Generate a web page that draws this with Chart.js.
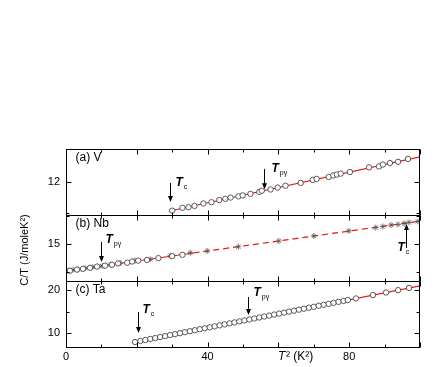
<!DOCTYPE html>
<html>
<head>
<meta charset="utf-8">
<script src="https://cdn.jsdelivr.net/npm/chart.js@4.4.0/dist/chart.umd.min.js"></script>
<style>html,body{margin:0;padding:0;background:#fff}</style>
</head>
<body>
<canvas id="chart" width="442" height="367"></canvas>
<script>
// (a) V
const vT2 = [30.0, 32.9, 34.6, 36.3, 38.8, 41.1, 43.3, 45.0, 46.5, 48.7, 49.9, 52.1, 54.6, 55.3, 57.8, 59.8, 62.0, 66.3, 69.7, 70.8, 74.2, 75.5, 76.5, 77.6, 80.2, 85.6, 88.4, 89.5, 91.5, 93.8, 96.6];
const vCT = [11.08, 11.17, 11.19, 11.23, 11.31, 11.35, 11.42, 11.46, 11.50, 11.54, 11.57, 11.62, 11.68, 11.72, 11.76, 11.82, 11.88, 11.97, 12.07, 12.10, 12.16, 12.21, 12.24, 12.27, 12.32, 12.47, 12.50, 12.56, 12.61, 12.65, 12.74];
const vFitT2 = [29.0, 100.5];
const vFitCT = [11.06, 12.82];

// (b) Nb
const nbCircT2 = [1.1, 3.1, 4.8, 6.8, 8.8, 11.0, 13.0, 14.7, 17.3, 18.7, 20.4, 22.9, 26.1, 30.0, 32.9];
const nbCircCT = [12.62, 12.72, 12.79, 12.88, 12.99, 13.07, 13.15, 13.27, 13.33, 13.44, 13.52, 13.58, 13.74, 13.92, 14.04];
const nbStarT2 = [0.6, 2.0, 3.4, 5.4, 7.6, 10.2, 12.5, 15.3, 19.5, 23.8, 29.5, 35.1, 39.9, 48.7, 60.1, 70.0, 79.9, 87.5, 89.5, 91.8, 93.8, 95.5, 96.9, 99.4];
const nbStarCT = [12.61, 12.70, 12.73, 12.84, 12.95, 13.03, 13.16, 13.30, 13.52, 13.64, 13.97, 14.22, 14.38, 14.76, 15.27, 15.72, 16.17, 16.47, 16.56, 16.69, 16.75, 16.84, 16.93, 17.02];
const nbFitSolidT2 = [0, 36];
const nbFitSolidCT = [12.59, 14.20];
const nbFitDashT2 = [36, 100.5];
const nbFitDashCT = [14.20, 17.07];

// (c) Ta
const taT2 = [19.5, 21.0, 22.4, 23.8, 25.2, 26.6, 28.0, 29.4, 30.8, 32.2, 33.6, 35.0, 36.4, 37.8, 39.2, 40.6, 42.0, 43.4, 44.8, 46.2, 47.6, 49.0, 50.4, 51.8, 53.2, 54.6, 56.0, 57.4, 58.8, 60.2, 61.6, 63.0, 64.4, 65.8, 67.2, 68.6, 70.0, 71.4, 72.8, 74.2, 75.6, 77.0, 78.4, 79.6, 81.9, 86.7, 90.4, 93.8, 96.9];
const taCT = [7.90, 8.14, 8.36, 8.61, 8.83, 9.05, 9.28, 9.52, 9.74, 9.96, 10.19, 10.42, 10.64, 10.88, 11.10, 11.33, 11.55, 11.79, 12.01, 12.24, 12.46, 12.70, 12.92, 13.15, 13.37, 13.61, 13.83, 14.05, 14.29, 14.52, 14.74, 14.97, 15.19, 15.43, 15.65, 15.88, 16.10, 16.34, 16.56, 16.78, 17.02, 17.25, 17.46, 17.67, 18.04, 18.82, 19.42, 19.97, 20.48];
const taFitT2 = [19.5, 100.5];
const taFitCT = [7.90, 21.06];

// axes
const xLabelTicks = [0, 40, 80];
const xMajorTicks = [0, 20, 40, 60, 80, 100];
const xMinorTicks = [10, 30, 50, 70, 90];

// listed bottom to top (stacked scales are placed from the bottom up)
const panels = [
  { id: 'yc', name: '(c) Ta', min: 6.74,  max: 22.10, labels: [10, 20], major: [10, 20], minor: [15] },
  { id: 'yb', name: '(b) Nb', min: 11.70, max: 17.59, labels: [15],     major: [15],     minor: [12.5, 17.5] },
  { id: 'ya', name: '(a) V',  min: 10.94, max: 13.06, labels: [12],     major: [12],     minor: [11] },
];

// transition markers: arrow in data units, label offset in px
const markers = [
  { axis: 'ya', x: 29.5, from: 11.97, to: 11.36, sub: 'c',  dx: 5,  dy: 3 },
  { axis: 'ya', x: 55.8, from: 12.42, to: 11.77, sub: 'pγ', dx: 7,  dy: 3 },
  { axis: 'yb', x: 10.0, from: 15.18, to: 13.39, sub: 'pγ', dx: 4,  dy: 1 },
  { axis: 'yb', x: 96.0, from: 14.65, to: 16.79, sub: 'c',  dx: -9, dy: 27 },
  { axis: 'yc', x: 20.4, from: 14.89, to: 10.00, sub: 'c',  dx: 4,  dy: 1 },
  { axis: 'yc', x: 51.4, from: 18.38, to: 14.19, sub: 'pγ', dx: 5,  dy: -1 },
];

const pts = (xs, ys) => xs.map((x, i) => ({ x, y: ys[i] }));
const FONT = "'Liberation Sans', Arial, sans-serif";

function circles(xs, ys, axis) {
  return { data: pts(xs, ys), yAxisID: axis, pointStyle: 'circle', pointRadius: 2.7,
    pointBorderColor: '#333', pointBackgroundColor: '#fff', pointBorderWidth: 0.8, order: 1 };
}
function stars(xs, ys, axis) {
  return { data: pts(xs, ys), yAxisID: axis, pointStyle: 'star', pointRadius: 3,
    pointBorderColor: '#555', pointBackgroundColor: '#555', pointBorderWidth: 0.8, order: 1 };
}
function fit(xs, ys, axis, dash) {
  return { data: pts(xs, ys), yAxisID: axis, showLine: true, pointRadius: 0,
    borderColor: '#ee1111', borderWidth: 1.2, borderDash: dash || [], order: 2 };
}

function drawArrow(ctx, x, y1, y2) {
  const dir = y2 > y1 ? 1 : -1;
  ctx.beginPath(); ctx.moveTo(x, y1); ctx.lineTo(x, y2 - dir * 5); ctx.stroke();
  ctx.beginPath(); ctx.moveTo(x - 2.5, y2 - dir * 6); ctx.lineTo(x + 2.5, y2 - dir * 6); ctx.lineTo(x, y2); ctx.closePath(); ctx.fill();
}

const decor = {
  id: 'decor',
  afterDatasetsDraw(chart) {
    const ctx = chart.ctx, area = chart.chartArea, xs = chart.scales.x;
    ctx.save();
    ctx.strokeStyle = '#000'; ctx.fillStyle = '#000'; ctx.lineWidth = 1;
    const seg = (x1, y1, x2, y2) => { ctx.beginPath(); ctx.moveTo(x1, y1); ctx.lineTo(x2, y2); ctx.stroke(); };
    const L = Math.round(area.left) + 0.5, R = Math.round(area.right) - 0.5;
    panels.forEach(p => {
      const ys = chart.scales[p.id];
      const T = Math.round(ys.top) + 0.5, B = Math.round(ys.bottom) + 0.5;
      ctx.strokeRect(L, T, R - L, B - T);
      xMajorTicks.forEach(v => { const px = Math.round(xs.getPixelForValue(v)) + 0.5; seg(px, T, px, T + 5); seg(px, B, px, B - 5); });
      xMinorTicks.forEach(v => { const px = Math.round(xs.getPixelForValue(v)) + 0.5; seg(px, T, px, T + 3); seg(px, B, px, B - 3); });
      p.major.forEach(v => { const py = Math.round(ys.getPixelForValue(v)) + 0.5; seg(L, py, L + 5, py); seg(R, py, R - 5, py); });
      p.minor.forEach(v => { const py = Math.round(ys.getPixelForValue(v)) + 0.5; seg(L, py, L + 3, py); seg(R, py, R - 3, py); });
      ctx.font = '12px ' + FONT; ctx.textAlign = 'left'; ctx.textBaseline = 'top';
      ctx.fillText(p.name, L + 9, T + 2);
    });
    markers.forEach(m => {
      const ys = chart.scales[m.axis];
      const px = Math.round(xs.getPixelForValue(m.x)) + 0.5;
      const y1 = ys.getPixelForValue(m.from), y2 = ys.getPixelForValue(m.to);
      drawArrow(ctx, px, y1, y2);
      const top = Math.min(y1, y2);
      ctx.textBaseline = 'alphabetic'; ctx.textAlign = 'left';
      ctx.font = 'italic bold 12px ' + FONT;
      ctx.fillText('T', px + m.dx, top + m.dy);
      const w = ctx.measureText('T').width;
      ctx.font = '7px ' + FONT;
      ctx.fillText(m.sub, px + m.dx + w + 1, top + m.dy + 3);
    });
    // axis titles
    ctx.textBaseline = 'middle'; ctx.textAlign = 'left';
    ctx.font = 'italic 12px ' + FONT;
    ctx.fillText('T', 278, 357);
    ctx.font = '12px ' + FONT;
    ctx.fillText('\u00B2 (K\u00B2)', 286, 357);
    ctx.translate(25, 250); ctx.rotate(-Math.PI / 2);
    ctx.textAlign = 'center';
    ctx.font = '11px ' + FONT;
    ctx.fillText('C/T (J/moleK\u00B2)', 0, 0);
    ctx.restore();
  }
};

const yScale = p => ({
  type: 'linear', position: 'left', stack: 'panels', stackWeight: 1,
  min: p.min, max: p.max,
  grid: { display: false, drawTicks: false }, border: { display: false },
  ticks: { color: '#000', padding: 6, font: { size: 11, family: FONT } },
  afterBuildTicks: s => { s.ticks = p.labels.map(v => ({ value: v })); },
  afterFit: s => { s.width = 66; },
});

const scales = {
  x: {
    type: 'linear', min: 0, max: 100,
    grid: { display: false, drawTicks: false }, border: { display: false },
    ticks: { color: '#000', padding: 3, font: { size: 11, family: FONT } },
    afterBuildTicks: s => { s.ticks = xLabelTicks.map(v => ({ value: v })); },
    afterFit: s => { s.height = 20; },
  },
};
panels.forEach(p => { scales[p.id] = yScale(p); });

new Chart(document.getElementById('chart'), {
  type: 'scatter',
  data: {
    datasets: [
      circles(vT2, vCT, 'ya'),
      fit(vFitT2, vFitCT, 'ya'),
      circles(nbCircT2, nbCircCT, 'yb'),
      stars(nbStarT2, nbStarCT, 'yb'),
      fit(nbFitSolidT2, nbFitSolidCT, 'yb'),
      fit(nbFitDashT2, nbFitDashCT, 'yb', [6, 4]),
      circles(taT2, taCT, 'yc'),
      fit(taFitT2, taFitCT, 'yc'),
    ],
  },
  options: {
    responsive: false, animation: false,
    layout: { padding: { top: 149, right: 22, left: 0, bottom: 0 } },
    plugins: { legend: { display: false }, tooltip: { enabled: false } },
    scales,
  },
  plugins: [decor],
});
</script>
</body>
</html>
